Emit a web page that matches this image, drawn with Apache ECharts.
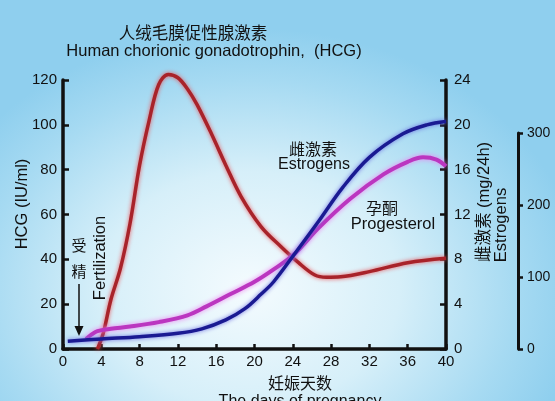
<!DOCTYPE html>
<html>
<head>
<meta charset="utf-8">
<script src="https://cdn.jsdelivr.net/npm/echarts@6/dist/echarts.min.js"></script>
<style>
  html, body { margin: 0; padding: 0; }
  #chart {
    width: 555px; height: 401px;
    background: radial-gradient(ellipse 60% 65% at 45% 72%, #f4fbfe 0%, #d6eff9 45%, #a6daf2 80%, #8fcfee 100%);
  }
</style>
</head>
<body>
<div id="chart"></div>
<script>
// pregnancy days and hormone levels
let hcgDays = [3.6, 4.2, 5, 6, 7, 8, 9, 10, 11, 12, 13, 14, 15.5, 17, 18.6, 20.7, 22.8, 24.6, 26.3, 27.5, 29, 32, 36, 40];
let hcgValues = [0, 7, 22, 36, 56, 82, 102, 118, 122.5, 121, 116, 109, 96, 82, 68, 54.5, 45.5, 38.5, 33, 32, 32.2, 34.5, 38.5, 40.5];

let estrogenDays = [0.5, 4, 8, 12, 14.5, 17, 19, 20.7, 22, 24.2, 26.7, 29.2, 32, 35.5, 38, 40];
let estrogenValues = [0.7, 0.9, 1.1, 1.4, 1.8, 2.6, 3.6, 4.9, 6.0, 8.5, 11.4, 14.4, 17.1, 19.2, 20.0, 20.3];

let progDays = [2.4, 3, 3.6, 5, 7, 10, 13, 15, 17.5, 20, 22, 24.2, 26.7, 30, 33.5, 36, 37.6, 39, 40];
let progValues = [0.9, 1.3, 1.6, 1.8, 2.0, 2.4, 3.0, 3.8, 4.9, 6.0, 7.1, 8.5, 10.8, 13.4, 15.6, 16.7, 17.1, 16.9, 16.3];

let dayTicks = [0, 40, 4];      // min, max, step
let hcgTicks = [0, 120, 20];
let mgTicks = [0, 24, 4];
let thirdTicks = [0, 300, 100];

let FONT = "'Liberation Sans', Arial, 'Noto Sans CJK SC', sans-serif";
let CJK = "'Noto Sans CJK SC', sans-serif";

function pairs(xs, ys) {
    return xs.map(function (x, i) { return [x, ys[i]]; });
}

function label(x, y, text, size, font, rotate) {
    return {
        type: "text", x: x, y: y, rotation: rotate ? Math.PI / 2 : 0,
        style: {text: text, fill: "#111", font: size + "px " + font, textAlign: "center", textVerticalAlign: "middle"}
    };
}

let axisLine = {show: true, lineStyle: {color: "#111", width: 3.5}};
let tickStyle = {color: "#111", width: 2.5};
let labelStyle = {color: "#111", fontSize: 15, fontFamily: FONT};

let myChart = echarts.init(document.getElementById("chart"));
let option = {
    backgroundColor: "transparent",
    animation: false,
    grid: [
        {left: 63, right: 109, top: 80, bottom: 52},
        {left: 518, width: 10, top: 133, bottom: 52}
    ],
    xAxis: [
        {
            type: "value", gridIndex: 0,
            min: dayTicks[0], max: dayTicks[1], interval: dayTicks[2],
            axisLine: axisLine,
            axisTick: {inside: true, length: 5, lineStyle: tickStyle},
            axisLabel: Object.assign({margin: 5}, labelStyle),
            splitLine: {show: false}
        },
        {type: "value", gridIndex: 1, show: false, min: 0, max: 1}
    ],
    yAxis: [
        {
            type: "value", gridIndex: 0,
            min: hcgTicks[0], max: hcgTicks[1], interval: hcgTicks[2],
            position: "left",
            axisLine: axisLine,
            axisTick: {inside: true, length: 6, lineStyle: tickStyle},
            axisLabel: Object.assign({margin: 6}, labelStyle),
            splitLine: {show: false}
        },
        {
            type: "value", gridIndex: 0,
            min: mgTicks[0], max: mgTicks[1], interval: mgTicks[2],
            position: "right",
            axisLine: axisLine,
            axisTick: {inside: true, length: 6, lineStyle: tickStyle},
            axisLabel: Object.assign({margin: 8}, labelStyle),
            splitLine: {show: false}
        },
        {
            type: "value", gridIndex: 1,
            min: thirdTicks[0], max: thirdTicks[1], interval: thirdTicks[2],
            position: "left",
            axisLine: {show: true, lineStyle: {color: "#111", width: 3}},
            axisTick: {inside: true, length: 5, lineStyle: tickStyle},
            axisLabel: {inside: true, margin: 9, color: "#111", fontSize: 14, fontFamily: FONT},
            splitLine: {show: false}
        }
    ],
    series: [
        {
            name: "HCG", type: "line", xAxisIndex: 0, yAxisIndex: 0,
            data: pairs(hcgDays, hcgValues),
            smooth: 0.35, showSymbol: false, clip: false,
            lineStyle: {color: "#a8232a", width: 3.5, shadowColor: "rgba(235,80,85,0.95)", shadowBlur: 4}
        },
        {
            name: "Progesterol", type: "line", xAxisIndex: 0, yAxisIndex: 1,
            data: pairs(progDays, progValues),
            smooth: 0.35, showSymbol: false, clip: false,
            lineStyle: {color: "#bb36c0", width: 4, shadowColor: "rgba(235,130,240,1)", shadowBlur: 5}
        },
        {
            name: "Estrogens", type: "line", xAxisIndex: 0, yAxisIndex: 1,
            data: pairs(estrogenDays, estrogenValues),
            smooth: 0.35, showSymbol: false, clip: false,
            lineStyle: {color: "#1a1a92", width: 3.5, shadowColor: "rgba(105,105,225,0.95)", shadowBlur: 4}
        }
    ],
    graphic: [
        label(193, 33, "人绒毛膜促性腺激素", 16.5, CJK),
        label(214, 51, "Human chorionic gonadotrophin,  (HCG)", 16.5, FONT),
        label(22, 204, "HCG (IU/ml)", 16.5, FONT, true),
        label(79, 245, "受", 15, CJK),
        label(79, 271, "精", 15, CJK),
        {type: "line", shape: {x1: 79, y1: 284, x2: 79, y2: 328}, style: {stroke: "#111", lineWidth: 1.5}},
        {type: "polygon", shape: {points: [[74.5, 326], [83.5, 326], [79, 336]]}, style: {fill: "#111"}},
        label(100, 258, "Fertilization", 16.5, FONT, true),
        label(313, 149, "雌激素", 16, CJK),
        label(314, 165, "Estrogens", 16, FONT),
        label(382, 208, "孕酮", 16, CJK),
        label(393, 224, "Progesterol", 16.5, FONT),
        label(484, 202, "雌激素 (mg/24h)", 16.5, FONT, true),
        label(501, 225, "Estrogens", 16.5, FONT, true),
        label(300, 383, "妊娠天数", 16, CJK),
        label(300, 402, "The days of pregnancy", 16, FONT)
    ]
};
myChart.setOption(option);
</script>
</body>
</html>
